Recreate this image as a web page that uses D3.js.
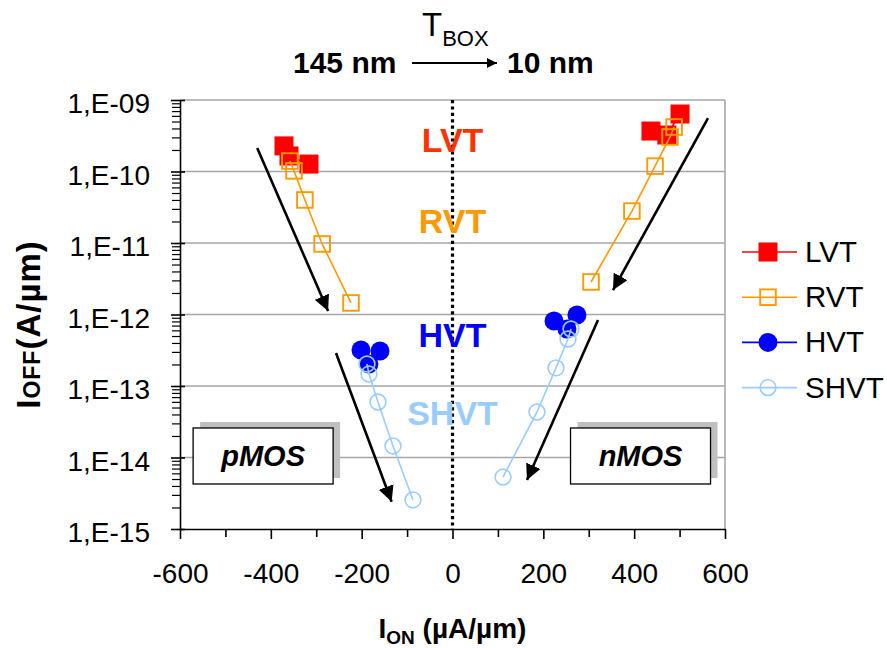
<!DOCTYPE html>
<html><head><meta charset="utf-8">
<script src="https://cdn.jsdelivr.net/npm/d3@7"></script>
<style>
body{margin:0;background:#fff}
svg{display:block}
text{font-family:"Liberation Sans",Arial,Helvetica,sans-serif}
</style>
</head><body>
<svg id="chart" width="887" height="648"></svg>
<script>
// ---------- data ----------
const xTicks = [-600, -400, -200, 0, 200, 400, 600];
const xMinorTicks = [-500, -300, -100, 100, 300, 500];
const yTicks = [1e-15, 1e-14, 1e-13, 1e-12, 1e-11, 1e-10, 1e-9];
const yTickLabels = ["1,E-15", "1,E-14", "1,E-13", "1,E-12", "1,E-11", "1,E-10", "1,E-09"];
const seriesNames = ["LVT", "RVT", "HVT", "SHVT"];
const seriesColors = ["#ff0000", "#ff9900", "#0000ff", "#99ccff"];
const labelColors = ["#ff3300", "#ff9900", "#0000ff", "#99ccff"];

// pMOS (negative I_ON) and nMOS (positive I_ON), I_ON in µA/µm, I_OFF in A/µm
const lvtPmosIon = [-371, -360, -316];
const lvtPmosIoff = [2.28e-10, 1.65e-10, 1.27e-10];
const lvtNmosIon = [437, 472, 501];
const lvtNmosIoff = [3.68e-10, 3.24e-10, 6.37e-10];

const rvtPmosIon = [-358, -349, -325, -287, -223.5];
const rvtPmosIoff = [1.40e-10, 1.02e-10, 4.0e-11, 9.7e-12, 1.45e-12];
const rvtNmosIon = [488, 479, 446, 395, 305];
const rvtNmosIoff = [4.19e-10, 3.04e-10, 1.19e-10, 2.8e-11, 2.85e-12];

const hvtPmosIon = [-201.5, -184, -159.6];
const hvtPmosIoff = [3.19e-13, 2.03e-13, 3.09e-13];
const hvtNmosIon = [223.5, 252, 274];
const hvtNmosIoff = [8.1e-13, 6.27e-13, 9.84e-13];

const shvtPmosIon = [-188.3, -183.9, -164.1, -131, -87];
const shvtPmosIoff = [2.03e-13, 1.47e-13, 5.97e-14, 1.45e-14, 2.55e-15];
const shvtNmosIon = [261, 254.3, 227.9, 186, 111.2];
const shvtNmosIoff = [6.27e-13, 4.54e-13, 1.79e-13, 4.33e-14, 5.33e-15];

// trend arrows (T_BOX 145 nm -> 10 nm), in data units
const arrowFromIon = [-430, -256.5, 562.6, 320.4];
const arrowFromIoff = [2.13e-10, 2.9e-13, 5.6e-10, 8.4e-13];
const arrowToIon = [-274, -134, 353.4, 164];
const arrowToIoff = [1.12e-12, 2.41e-15, 2.2e-12, 4.84e-15];

// in-plot class labels (x = 0)
const classLabelIoff = [1.88e-10, 1.38e-11, 3.5e-13, 2.85e-14];

// device boxes
const boxNames = ["pMOS", "nMOS"];
const boxIon = [-417, 414];
const boxIoff = [1.05e-14, 1.05e-14];

// ---------- layout ----------
const svg = d3.select("#chart");
const x = d3.scaleLinear().domain([-600, 600]).range([180, 725]);
const y = d3.scaleLog().domain([1e-15, 1e-9]).range([529, 100]);
const FONT = '"Liberation Sans",Arial,Helvetica,sans-serif';

const series = [
  {name: "LVT", pm: d3.zip(lvtPmosIon, lvtPmosIoff), nm: d3.zip(lvtNmosIon, lvtNmosIoff), shape: "square", filled: true},
  {name: "RVT", pm: d3.zip(rvtPmosIon, rvtPmosIoff), nm: d3.zip(rvtNmosIon, rvtNmosIoff), shape: "square", filled: false},
  {name: "HVT", pm: d3.zip(hvtPmosIon, hvtPmosIoff), nm: d3.zip(hvtNmosIon, hvtNmosIoff), shape: "circle", filled: true},
  {name: "SHVT", pm: d3.zip(shvtPmosIon, shvtPmosIoff), nm: d3.zip(shvtNmosIon, shvtNmosIoff), shape: "circle", filled: false}
];
series.forEach((s, i) => s.color = seriesColors[i]);

// gridlines (decades above the axis)
svg.append("g").selectAll("line").data(yTicks.slice(1)).join("line")
  .attr("x1", x(-600)).attr("x2", x(600))
  .attr("y1", d => y(d)).attr("y2", d => y(d))
  .attr("stroke", "#a6a6a6").attr("stroke-width", 1.6);
// right border
svg.append("line").attr("x1", x(600)).attr("x2", x(600))
  .attr("y1", y(1e-9)).attr("y2", y(1e-15))
  .attr("stroke", "#a6a6a6").attr("stroke-width", 1.6);

// boxes pMOS / nMOS (behind data)
const bw = 140, bh = 56;
const boxes = svg.append("g");
boxNames.forEach((n, i) => {
  const cx = x(boxIon[i]), cy = y(boxIoff[i]);
  boxes.append("rect").attr("x", cx - bw/2 + 7).attr("y", cy - bh/2 - 6)
    .attr("width", bw).attr("height", bh).attr("fill", "#bfbfbf");
  boxes.append("rect").attr("x", cx - bw/2).attr("y", cy - bh/2)
    .attr("width", bw).attr("height", bh).attr("fill", "#fff")
    .attr("stroke", "#000").attr("stroke-width", 1.3);
  boxes.append("text").attr("x", cx).attr("y", cy + 10)
    .attr("text-anchor", "middle").attr("font-size", 29)
    .attr("font-weight", "bold").attr("font-style", "italic").text(n);
});

// dotted zero line
svg.append("line").attr("x1", x(0)).attr("x2", x(0))
  .attr("y1", y(1e-9)).attr("y2", y(1e-15))
  .attr("stroke", "#000").attr("stroke-width", 3.2).attr("stroke-dasharray", "3.2,3.2");

// in-plot class labels
svg.append("g").selectAll("text").data(seriesNames).join("text")
  .attr("x", x(0)).attr("y", (d, i) => y(classLabelIoff[i]))
  .attr("text-anchor", "middle").attr("font-size", 34).attr("font-weight", "bold")
  .attr("fill", (d, i) => labelColors[i]).text(d => d);

// axes
const xAxisG = svg.append("g").attr("transform", `translate(0,${y(1e-15)})`);
xAxisG.call(d3.axisBottom(x).tickValues(xTicks).tickSize(10).tickSizeOuter(0).tickFormat(d => d));
xAxisG.select(".domain").attr("stroke", "#000").attr("stroke-width", 1.6);
xAxisG.selectAll(".tick line").attr("stroke", "#000").attr("stroke-width", 1.6);
xAxisG.selectAll(".tick text").attr("font-size", 28).attr("font-family", FONT).attr("fill", "#000").attr("dy", "1.25em");
xAxisG.selectAll(".tick text").attr("y", 19);
svg.append("g").attr("transform", `translate(0,${y(1e-15)})`)
  .call(d3.axisBottom(x).tickValues(xMinorTicks).tickSize(8).tickFormat(""))
  .call(g => g.select(".domain").remove())
  .selectAll("line").attr("stroke", "#000").attr("stroke-width", 1.6);

const yAxisG = svg.append("g").attr("transform", `translate(${x(-600)},0)`);
yAxisG.call(d3.axisLeft(y).tickValues(yTicks).tickSize(9).tickSizeOuter(0)
  .tickFormat((d, i) => yTickLabels[i]));
yAxisG.select(".domain").attr("stroke", "#000").attr("stroke-width", 1.6);
yAxisG.selectAll(".tick line").attr("stroke", "#000").attr("stroke-width", 1.6).attr("x2", -9).attr("x1", 5);
yAxisG.selectAll(".tick text").attr("font-size", 28).attr("font-family", FONT).attr("fill", "#000")
  .attr("x", -30).attr("dy", "0.45em");
// minor log ticks
const minor = [];
yTicks.slice(0, -1).forEach(d => { for (let k = 2; k <= 9; k++) minor.push(d * k); });
svg.append("g").attr("transform", `translate(${x(-600)},0)`)
  .call(d3.axisLeft(y).tickValues(minor).tickSize(8).tickFormat(""))
  .call(g => g.select(".domain").remove())
  .selectAll("line").attr("stroke", "#000").attr("stroke-width", 1.2);

// axis titles
const xt = svg.append("text").attr("x", x(0)).attr("y", 638).attr("text-anchor", "middle")
  .attr("font-size", 28).attr("font-weight", "bold");
xt.append("tspan").text("I");
xt.append("tspan").attr("font-size", 19).attr("dy", 6).text("ON");
xt.append("tspan").attr("dy", -6).text(" (µA/µm)");

const yt = svg.append("text").attr("transform", `translate(40,${(y(1e-9)+y(1e-15))/2 + 10}) rotate(-90)`)
  .attr("text-anchor", "middle").attr("font-size", 33).attr("font-weight", "bold")
  .attr("letter-spacing", 1);
yt.append("tspan").text("I");
yt.append("tspan").attr("font-size", 23).text("OFF");
yt.append("tspan").text("(A/µm)");

// series lines and markers
const line = d3.line().x(d => x(d[0])).y(d => y(d[1]));
function drawMarker(g, s, px, py) {
  if (s.shape === "square") {
    if (s.filled) g.append("rect").attr("x", px - 9.5).attr("y", py - 9.5).attr("width", 19).attr("height", 19).attr("fill", s.color);
    else g.append("rect").attr("x", px - 7.8).attr("y", py - 7.8).attr("width", 15.6).attr("height", 15.6)
      .attr("fill", "none").attr("stroke", s.color).attr("stroke-width", 1.9);
  } else {
    if (s.filled) g.append("circle").attr("cx", px).attr("cy", py).attr("r", 9.5).attr("fill", s.color);
    else g.append("circle").attr("cx", px).attr("cy", py).attr("r", 7.9)
      .attr("fill", "none").attr("stroke", s.color).attr("stroke-width", 1.6);
  }
}
series.forEach(s => {
  const g = svg.append("g");
  [s.pm, s.nm].forEach(pts => {
    g.append("path").attr("d", line(pts)).attr("fill", "none")
      .attr("stroke", s.color).attr("stroke-width", 1.6);
  });
  [...s.pm, ...s.nm].forEach(d => drawMarker(g, s, x(d[0]), y(d[1])));
});

// arrows
const defs = svg.append("defs");
defs.append("marker").attr("id", "ah").attr("viewBox", "0 0 10 10")
  .attr("refX", 10).attr("refY", 5).attr("markerWidth", 6).attr("markerHeight", 6)
  .attr("markerUnits", "strokeWidth").attr("orient", "auto")
  .append("path").attr("d", "M0,0 L10,5 L0,10 z").attr("fill", "#000");
defs.append("marker").attr("id", "ah2").attr("viewBox", "0 0 10 10")
  .attr("refX", 10).attr("refY", 5).attr("markerWidth", 6.5).attr("markerHeight", 5)
  .attr("markerUnits", "strokeWidth").attr("orient", "auto")
  .append("path").attr("d", "M0,0 L10,5 L0,10 z").attr("fill", "#000");
svg.append("g").selectAll("line").data(arrowFromIon).join("line")
  .attr("x1", (d, i) => x(arrowFromIon[i])).attr("y1", (d, i) => y(arrowFromIoff[i]))
  .attr("x2", (d, i) => x(arrowToIon[i])).attr("y2", (d, i) => y(arrowToIoff[i]))
  .attr("stroke", "#000").attr("stroke-width", 2.6).attr("marker-end", "url(#ah)");

// legend
const lg = svg.append("g");
seriesNames.forEach((n, i) => {
  const s = series[i];
  const ly = 252 + i * 45.2;
  lg.append("line").attr("x1", 742).attr("x2", 797).attr("y1", ly).attr("y2", ly)
    .attr("stroke", s.color).attr("stroke-width", 1.6);
  drawMarker(lg, s, 768, ly);
  lg.append("text").attr("x", 805).attr("y", ly + 10).attr("font-size", 29.5).text(n);
});

// top annotation: T_BOX 145 nm -> 10 nm
const ta = svg.append("text").attr("x", 422).attr("y", 36).attr("font-size", 33);
ta.append("tspan").text("T");
ta.append("tspan").attr("font-size", 22).attr("dy", 10).text("BOX");
svg.append("text").attr("x", 293).attr("y", 73).attr("font-size", 30).attr("font-weight", "bold").text("145 nm");
svg.append("text").attr("x", 507).attr("y", 73).attr("font-size", 30).attr("font-weight", "bold").text("10 nm");
svg.append("line").attr("x1", 412).attr("x2", 497).attr("y1", 63).attr("y2", 63)
  .attr("stroke", "#000").attr("stroke-width", 2).attr("marker-end", "url(#ah2)");
</script>
</body></html>
